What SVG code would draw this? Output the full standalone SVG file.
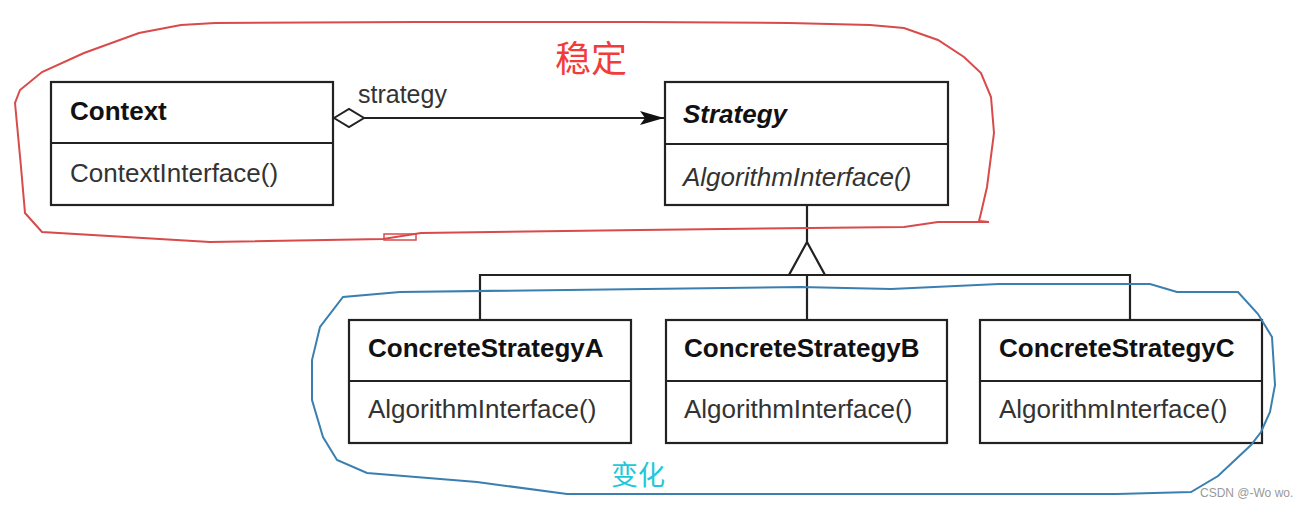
<svg xmlns="http://www.w3.org/2000/svg" width="1308" height="506" viewBox="0 0 1308 506">
  <style>
    .box { fill: #ffffff; stroke: #222222; stroke-width: 2.2; }
    .div { stroke: #222222; stroke-width: 2.2; }
    .name { font-family: "Liberation Sans", Arial, sans-serif; font-size: 26px; font-weight: bold; fill: #111111; }
    .op { font-family: "Liberation Sans", Arial, sans-serif; font-size: 26px; fill: #333333; }
    .it { font-style: italic; }
    .conn { fill: none; stroke: #222222; stroke-width: 2.2; }
    .lbl { font-family: "Liberation Sans", Arial, sans-serif; font-size: 25px; fill: #333333; }
  </style>
  <defs>
    <marker id="arrow" markerWidth="26" markerHeight="20" refX="25" refY="10" orient="auto" markerUnits="userSpaceOnUse">
      <path d="M1,3 L25,10 L1,17 L6,10 Z" fill="#111111"/>
    </marker>
    <marker id="diamond" markerWidth="34" markerHeight="22" refX="1" refY="11" orient="auto" markerUnits="userSpaceOnUse">
      <path d="M1,11 L16,2 L31,11 L16,20 Z" fill="#ffffff" stroke="#222222" stroke-width="2"/>
    </marker>
  </defs>

  <rect width="1308" height="506" fill="#ffffff"/>

  <g id="connectors">
    <line class="conn" x1="334" y1="118" x2="664" y2="118" marker-start="url(#diamond)" marker-end="url(#arrow)"/>
    <line class="conn" x1="807" y1="205" x2="807" y2="242"/>
    <path class="conn" d="M807,242 L789,275 L825,275 Z" fill="#ffffff"/>
    <polyline class="conn" points="480,320 480,275 1130,275 1130,320"/>
    <line class="conn" x1="807" y1="275" x2="807" y2="320"/>
  </g>

  <g id="Context">
    <rect class="box" x="51" y="82" width="282" height="123"/>
    <line class="div" x1="51" y1="143" x2="333" y2="143"/>
    <text class="name" x="70" y="120">Context</text>
    <text class="op" x="70" y="182">ContextInterface()</text>
  </g>

  <g id="Strategy">
    <rect class="box" x="665" y="82" width="283" height="123"/>
    <line class="div" x1="665" y1="144" x2="948" y2="144"/>
    <text class="name it" x="683" y="123">Strategy</text>
    <text class="op it" x="683" y="186">AlgorithmInterface()</text>
  </g>

  <g id="ConcreteStrategyA">
    <rect class="box" x="349" y="320" width="282" height="123"/>
    <line class="div" x1="349" y1="381" x2="631" y2="381"/>
    <text class="name" x="368" y="357">ConcreteStrategyA</text>
    <text class="op" x="368" y="418">AlgorithmInterface()</text>
  </g>

  <g id="ConcreteStrategyB">
    <rect class="box" x="666" y="320" width="281" height="123"/>
    <line class="div" x1="666" y1="381" x2="947" y2="381"/>
    <text class="name" x="684" y="357">ConcreteStrategyB</text>
    <text class="op" x="684" y="418">AlgorithmInterface()</text>
  </g>

  <g id="ConcreteStrategyC">
    <rect class="box" x="980" y="320" width="282" height="123"/>
    <line class="div" x1="980" y1="381" x2="1262" y2="381"/>
    <text class="name" x="999" y="357">ConcreteStrategyC</text>
    <text class="op" x="999" y="418">AlgorithmInterface()</text>
  </g>

  <text class="lbl" x="358" y="103">strategy</text>

  <g id="stable-outline">
    <path d="M640,22 L789,23 L870,25 L904,28 L938,40 L964,57 L981,73 L991,97 L994,133 L987,187 L981,213 L979,221 L989,222 L938,222 L904,227 L640,230 L421,233 L383,239 L210,242 L42,232 L25,213 L21,167 L15,103 L20,90 L42,72 L84,53 L139,33 L181,25 L215,23 L417,22 Z" fill="none" stroke="#d94a4a" stroke-width="2"/>
    <rect x="384" y="234" width="32" height="6" fill="none" stroke="#d94a4a" stroke-width="1.5"/>
    <text x="555" y="72" font-family="'Noto Sans CJK SC', sans-serif" font-size="36" fill="#f23c3c">稳定</text>
  </g>

  <g id="change-outline">
    <path d="M400,292 L800,287 L891,289 L999,284 L1150,284 L1177,292 L1238,292 L1258,314 L1272,337 L1275,385 L1270,412 L1261,432 L1251,445 L1218,476 L1191,492 L1117,494 L800,494 L567,494 L477,482 L367,473 L337,460 L323,437 L312,400 L312,360 L320,327 L343,297 Z" fill="none" stroke="#3a7fb0" stroke-width="2"/>
    <text x="611" y="485" font-family="'Noto Sans CJK SC', sans-serif" font-size="27" fill="#22c8d8">变化</text>
  </g>

  <text x="1200" y="497" font-family="'Liberation Sans', Arial, sans-serif" font-size="12" fill="#999999">CSDN @-Wo wo.</text>
</svg>
